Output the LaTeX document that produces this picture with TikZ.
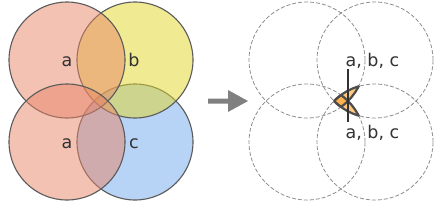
\documentclass[tikz,border=0pt]{standalone}
\usepackage{fontspec}
\setmainfont{DejaVu Sans}
\definecolor{acol}{RGB}{231,133,103}
\definecolor{bcol}{RGB}{226,214,40}
\definecolor{ccol}{RGB}{112,168,236}
\definecolor{ocol}{RGB}{255,163,40}
\definecolor{edge}{RGB}{90,90,90}
\definecolor{txt}{RGB}{50,50,50}
\definecolor{arrowgray}{RGB}{128,128,128}
\begin{document}
\begin{tikzpicture}[x=1pt,y=-1pt,
  vset/.style={draw=edge, line width=1.1pt, fill opacity=0.5},
  ghost/.style={draw=arrowgray!90, line width=0.8pt, dash pattern=on 4pt off 2pt},
  piece/.style={fill=ocol, fill opacity=0.6},
  pedge/.style={draw=edge!85!black, line width=2.2pt},
  lbl/.style={text=txt, font=\fontsize{17.5}{20}\selectfont, inner sep=0pt, anchor=base},
  leader/.style={draw=txt, line width=1.4pt}]
\useasboundingbox (0,0) rectangle (443,201);
% left diagram
\coordinate (tl) at (67,60);
\coordinate (tr) at (135,60);
\coordinate (bl) at (67,142);
\coordinate (br) at (135,142);
\draw[vset, fill=ccol] (br) circle[radius=58pt];
\draw[vset, fill=bcol] (tr) circle[radius=58pt];
\draw[vset, fill=acol] (tl) circle[radius=58pt];
\draw[vset, fill=acol] (bl) circle[radius=58pt];
\node[lbl] (la1) at (67,66.5) {a};
\node[lbl] (lb) at (134,66.5) {b};
\node[lbl] (la2) at (67,148.5) {a};
\node[lbl] (lc) at (134,148.5) {c};
% arrow
\fill[arrowgray] (208,98.5) -- (228,98.5) -- (228,90) -- (248,101) -- (228,112) -- (228,103.5) -- (208,103.5) -- cycle;
% right diagram
\coordinate (rtl) at (307,60);
\coordinate (rtr) at (375,60);
\coordinate (rbl) at (307,142);
\coordinate (rbr) at (375,142);
\draw[ghost] (rtl) circle[radius=58pt];
\draw[ghost] (rtr) circle[radius=58pt];
\draw[ghost] (rbl) circle[radius=58pt];
\draw[ghost] (rbr) circle[radius=58pt];
% upper piece: tl & tr & br
\begin{scope}
\clip (rtl) circle[radius=58pt];
\clip (rtr) circle[radius=58pt];
\fill[piece] (rbr) circle[radius=58pt];
\end{scope}
% lower piece: bl & tr & br
\begin{scope}
\clip (rbl) circle[radius=58pt];
\clip (rtr) circle[radius=58pt];
\fill[piece] (rbr) circle[radius=58pt];
\end{scope}
% outlines of upper piece
\begin{scope}
\clip (rtr) circle[radius=58pt]; \clip (rbr) circle[radius=58pt];
\draw[pedge] (rtl) circle[radius=58pt];
\end{scope}
\begin{scope}
\clip (rtl) circle[radius=58pt]; \clip (rbr) circle[radius=58pt];
\draw[pedge] (rtr) circle[radius=58pt];
\end{scope}
\begin{scope}
\clip (rtl) circle[radius=58pt]; \clip (rtr) circle[radius=58pt];
\draw[pedge] (rbr) circle[radius=58pt];
\end{scope}
% outlines of lower piece
\begin{scope}
\clip (rtr) circle[radius=58pt]; \clip (rbr) circle[radius=58pt];
\draw[pedge] (rbl) circle[radius=58pt];
\end{scope}
\begin{scope}
\clip (rbl) circle[radius=58pt]; \clip (rbr) circle[radius=58pt];
\draw[pedge] (rtr) circle[radius=58pt];
\end{scope}
\begin{scope}
\clip (rbl) circle[radius=58pt]; \clip (rtr) circle[radius=58pt];
\draw[pedge] (rbr) circle[radius=58pt];
\end{scope}
% labels and leaders
\node[lbl] (top) at (372.5,66) {a, b, c};
\node[lbl] (bot) at (372.5,138.5) {a, b, c};
\coordinate (ptop) at (348,69);
\coordinate (pmid) at (348,101);
\coordinate (pbot) at (348,122);
\draw[leader] (ptop) -- (pmid);
\draw[leader] (pmid) -- (pbot);
\end{tikzpicture}
\end{document}
